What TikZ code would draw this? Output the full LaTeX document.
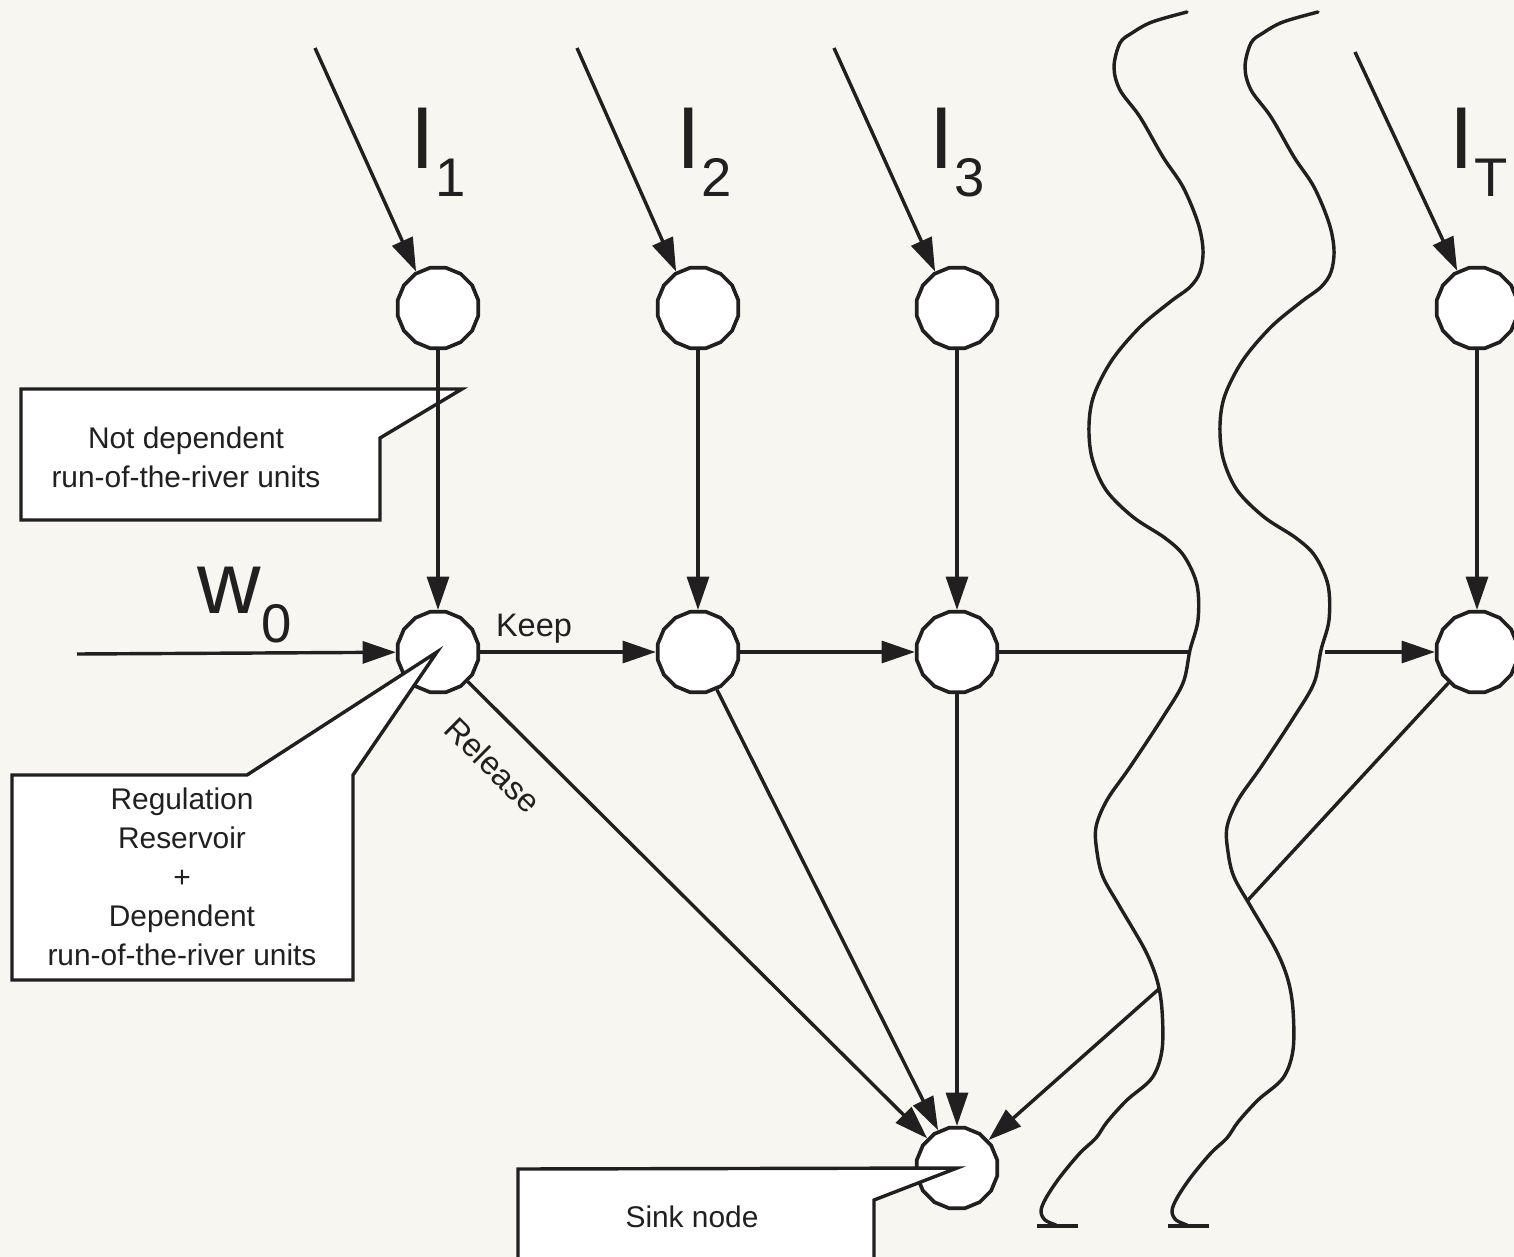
\documentclass[tikz,border=0pt]{standalone}
\usepackage{fontspec}
\setmainfont{Liberation Sans}
\usetikzlibrary{arrows.meta,shapes.geometric}
\definecolor{paper}{RGB}{247,246,240}
\definecolor{ink}{RGB}{33,31,32}
\newcommand\lowidx[1]{\raisebox{-0.58cm}{\fontsize{31}{36}\selectfont #1}}
\begin{document}
\begin{tikzpicture}[x=0.02cm,y=-0.02cm,line width=1.95pt,draw=ink,
  stnode/.style={regular polygon,regular polygon sides=16,minimum size=1.64cm,
    inner sep=0pt,draw=ink,fill=white,line width=2.1pt},
  flow/.style={-{Triangle[length=19pt,width=12.5pt]}},
  callout/.style={draw=ink,fill=white,line width=1.95pt,line join=miter},
  note/.style={font=\fontsize{17}{22.2}\selectfont,align=center,text=ink,inner sep=0pt},
  edgelab/.style={font=\fontsize{18.5}{22}\selectfont,text=ink,inner sep=0pt},
  big/.style={font=\fontsize{50}{60}\selectfont,text=ink,inner sep=0pt,anchor=base west},
  wave/.style={line width=1.95pt,line join=round,line cap=round},
]
% canvas
\fill[paper] (0,0) rectangle (1514,1257);
\clip (0,0) rectangle (1514,1257);

% callout behind the first feeder
\draw[callout] (21,389) -- (462,389) -- (380,438) -- (380,520) -- (21,520) -- cycle;
\node[note] (nd) at (186,457) {Not dependent\\run-of-the-river units};

% inflow nodes and stage nodes
\node[stnode] (t1) at (438,308) {};
\node[stnode] (t2) at (698,308) {};
\node[stnode] (t3) at (957,308) {};
\node[stnode] (tT) at (1477,308) {};
\node[stnode] (m1) at (438,652) {};
\node[stnode] (m2) at (698,652) {};
\node[stnode] (m3) at (957,652) {};
\node[stnode] (mT) at (1477,652) {};
\node[stnode] (sink) at (957,1168) {};

% free ends
\coordinate (s1) at (315,48);
\coordinate (s2) at (577,48);
\coordinate (s3) at (834,48);
\coordinate (sT) at (1355,52);
\coordinate (w0) at (77,654);
\coordinate (wl) at (1190,652);
\coordinate (wr) at (1325,652);
\coordinate (wlow) at (1160,988);
\coordinate (wmid) at (1248,900);

% inflows
\draw[flow] (s1) -- (t1.121);
\draw[flow] (s2) -- (t2.121);
\draw[flow] (s3) -- (t3.121);
\draw[flow] (sT) -- (tT.118);
\draw[flow] (t1) -- (m1);
\draw[flow] (t2) -- (m2);
\draw[flow] (t3) -- (m3);
\draw[flow] (tT) -- (mT);

% stage chain
\draw[flow] (w0) -- (m1);
\draw[flow] (m1) -- (m2);
\draw[flow] (m2) -- (m3);
\draw (m3) -- (wl);
\draw[flow] (wr) -- (mT);
\draw (mT) -- (wmid);

% releases to the sink
\draw[flow] (m1) -- (sink);
\draw[flow] (m2) -- (sink);
\draw[flow] (m3) -- (sink);
\draw[flow] (wlow) -- (sink);

% labels
\node[big] (i1) at (409,168) {I\lowidx{1}};
\node[big] (i2) at (675,168) {I\lowidx{2}};
\node[big] (i3) at (928,168) {I\lowidx{3}};
\node[big] (iT) at (1448,168) {I\lowidx{T}};
\node[big] (w0l) at (196,613) {w\lowidx{0}};
\node[edgelab,anchor=base] (keep) at (534,636) {Keep};
\node[edgelab,rotate=-44.8] (rel) at (493,765) {Release};

% time breaks
\foreach \dx in {0,131}{
  \begin{scope}[xshift=\dx*0.02cm]
  \draw[wave] plot[smooth,tension=0.55] coordinates {
    (1187,12) (1152,22) (1132,33) (1120,43) (1114,67) (1120,90) (1140,117)
    (1163,157) (1183,187) (1198,223) (1203,250) (1200,272) (1190,287)
    (1170,302) (1140,327) (1112,360) (1094,395) (1089,425) (1092,458)
    (1106,490) (1133,517) (1165,538) (1184,556) (1197,585) (1198,620)
    (1190,650) (1183,683) (1163,717) (1130,767) (1107,800) (1096,827)
    (1097,852) (1103,877) (1120,907) (1145,950) (1157,980) (1162,1010)
    (1162,1050) (1152,1078) (1127,1100) (1107,1122) (1096,1138)
    (1080,1153) (1060,1177) (1046,1198) (1041,1211) (1045,1220) (1056,1225)};
  \draw[line width=2.4pt] (1037,1226) -- (1078,1226);
  \end{scope}
}

% callouts over the nodes
\draw[callout] (12,775) -- (247,775) -- (437,652) -- (353,775) -- (353,980) -- (12,980) -- cycle;
\node[note] (reg) at (182,877) {Regulation\\Reservoir\\+\\Dependent\\run-of-the-river units};
\draw[callout] (518,1300) -- (518,1169) -- (957,1168) -- (874,1200) -- (874,1300) -- cycle;
\node[note] (snk) at (692,1217) {Sink node};
\end{tikzpicture}
\end{document}
